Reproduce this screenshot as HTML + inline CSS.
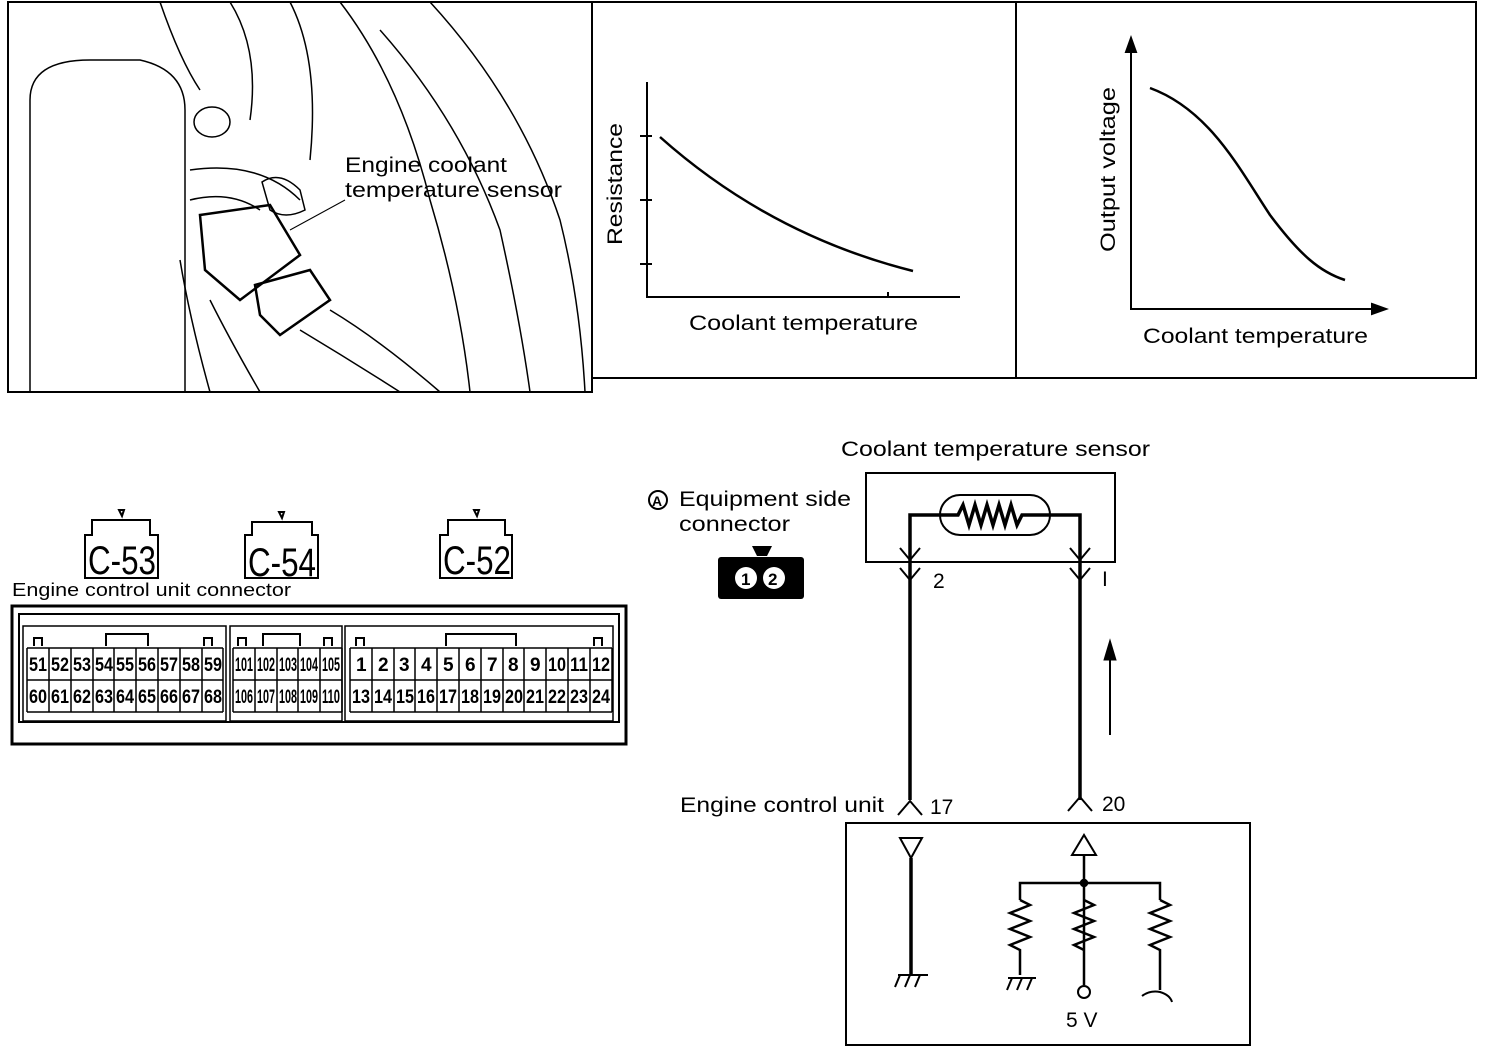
<!DOCTYPE html>
<html><head><style>
body{margin:0;background:#fff;}
svg{display:block;font-family:"Liberation Sans",sans-serif;}
</style></head><body>
<svg width="1504" height="1050" viewBox="0 0 1504 1050" xmlns="http://www.w3.org/2000/svg">
<g fill="none" stroke="#000" stroke-width="2">
<!-- top frame -->
<rect x="8" y="2" width="584" height="390"/>
<rect x="592" y="2" width="884" height="376"/>
<line x1="1016" y1="2" x2="1016" y2="378"/>
<!-- photo sketch -->
<path d="M30 392 V100 Q30 60 90 60 H140 Q185 70 185 110 V392" stroke-width="1.5"/>
<path d="M160 2 Q180 60 200 90 M230 2 Q260 50 250 120 M290 2 Q320 60 310 160 M340 2 Q400 80 430 200 Q460 300 470 392 M380 30 Q460 120 500 230 Q520 320 530 392 M430 2 Q520 100 560 220 Q580 300 585 392" stroke-width="1.5"/>
<ellipse cx="212" cy="122" rx="18" ry="15" stroke-width="1.5"/>
<path d="M190 170 Q260 160 300 200 M190 200 Q230 190 260 210" stroke-width="1.5"/>
<path d="M200 215 L270 205 L300 255 L240 300 L205 270 Z" stroke-width="2.5"/>
<path d="M255 285 L310 270 L330 300 L280 335 L260 315 Z" stroke-width="2.5"/>
<path d="M262 182 Q280 170 300 190 L305 210 Q285 220 270 210 Z" stroke-width="1.5"/>
<path d="M300 330 Q350 360 400 392 M330 310 Q380 340 440 392 M210 300 Q230 340 260 392 M180 260 Q190 320 210 392" stroke-width="1.5"/>
<line x1="290" y1="230" x2="345" y2="200" stroke-width="1"/>
<!-- graph 1 -->
<path d="M647 82 V297 H960" />
<path d="M640 136 H652 M640 200 H652 M640 264 H652 M888 292 V297" />
<path d="M660 137 Q770 235 913 271" stroke-width="2.5"/>
<!-- graph 2 -->
<path d="M1131 40 V309 H1385"/>
<path d="M1126 52 L1131 38 L1136 52 Z M1372 304 L1386 309 L1372 314 Z" fill="#000"/>
<path d="M1150 88 C1210 110 1240 170 1270 215 C1300 255 1320 272 1345 280" stroke-width="2.5"/>
</g>
<g font-size="21" fill="#000" lengthAdjust="spacingAndGlyphs">
<text x="345" y="172" textLength="162" lengthAdjust="spacingAndGlyphs">Engine coolant</text>
<text x="345" y="197" textLength="217" lengthAdjust="spacingAndGlyphs">temperature sensor</text>
<text x="689" y="330" textLength="229" lengthAdjust="spacingAndGlyphs">Coolant temperature</text>
<text x="1143" y="343" textLength="225" lengthAdjust="spacingAndGlyphs">Coolant temperature</text>
<text transform="translate(622,245) rotate(-90)" textLength="122" lengthAdjust="spacingAndGlyphs">Resistance</text>
<text transform="translate(1115,252) rotate(-90)" textLength="165" lengthAdjust="spacingAndGlyphs">Output voltage</text>
<text x="841" y="456" textLength="309" lengthAdjust="spacingAndGlyphs">Coolant temperature sensor</text>
<text x="679" y="506" textLength="172" lengthAdjust="spacingAndGlyphs">Equipment side</text>
<text x="679" y="531" textLength="111" lengthAdjust="spacingAndGlyphs">connector</text>
<text x="680" y="812" textLength="204" lengthAdjust="spacingAndGlyphs">Engine control unit</text>
<text x="930" y="814">17</text>
<text x="1102" y="811">20</text>
<text x="933" y="588">2</text>
<text x="1102" y="586">I</text>
<text x="1066" y="1027">5  V</text>
<text x="12" y="596" font-size="18" textLength="279" lengthAdjust="spacingAndGlyphs">Engine control unit connector</text>
</g>
<!-- A circle -->
<circle cx="658" cy="500" r="9" fill="none" stroke="#000" stroke-width="2"/>
<text x="652" y="506" font-size="14" font-weight="bold">A</text>
<!-- small connector -->
<rect x="718" y="557" width="86" height="42" rx="3" fill="#000"/>
<path d="M752 546 H772 L767 556 H757 Z" fill="#000"/>
<circle cx="746" cy="578" r="11" fill="#fff"/><circle cx="774" cy="578" r="11" fill="#fff"/>
<text x="741" y="585" font-size="17" font-weight="bold">1</text><text x="768" y="585" font-size="17" font-weight="bold">2</text>
<!-- C labels -->
<g fill="none" stroke="#000" stroke-width="2">
<path d="M85 578 V535 H92 V520 H150 V535 H158 V578 Z"/>
<path d="M245 578 V535 H252 V522 H312 V535 H318 V578 Z"/>
<path d="M440 578 V535 H448 V520 H505 V535 H512 V578 Z"/>
<path d="M119 510 L124 510 L122 516 Z M279 512 L284 512 L282 518 Z M474 510 L479 510 L477 516 Z"/>
</g>
<g font-size="40" fill="#000">
<text x="88" y="574" textLength="68" lengthAdjust="spacingAndGlyphs">C-53</text>
<text x="248" y="576" textLength="68" lengthAdjust="spacingAndGlyphs">C-54</text>
<text x="443" y="574" textLength="68" lengthAdjust="spacingAndGlyphs">C-52</text>
</g>
<!-- ECU connector -->
<g fill="none" stroke="#000" stroke-width="2">
<rect x="12" y="606" width="614" height="138" stroke-width="3"/>
<rect x="19" y="614" width="600" height="108"/>
<rect x="23" y="626" width="203" height="95" stroke-width="1.5"/>
<rect x="230" y="626" width="112" height="95" stroke-width="1.5"/>
<rect x="345" y="626" width="268" height="95" stroke-width="1.5"/>
<path d="M106 646 V634 H148 V646 M263 646 V634 H300 V646 M446 646 V634 H516 V646"/>
<path d="M34 646 V638 H42 V646 M204 646 V638 H212 V646 M238 646 V638 H246 V646 M324 646 V638 H332 V646 M356 646 V638 H364 V646 M594 646 V638 H602 V646"/>
</g>
<g fill="none" stroke="#000" stroke-width="1.5">
<path d="M27 648 H223 M27 680 H223 M27 712 H223 M27 648 V712 M49 648 V712 M71 648 V712 M93 648 V712 M114 648 V712 M136 648 V712 M158 648 V712 M180 648 V712 M202 648 V712 M223 648 V712"/>
<path d="M233 648 H342 M233 680 H342 M233 712 H342 M233 648 V712 M255 648 V712 M277 648 V712 M298 648 V712 M320 648 V712 M342 648 V712"/>
<path d="M350 648 H612 M350 680 H612 M350 712 H612 M350 648 V712 M372 648 V712 M394 648 V712 M415 648 V712 M437 648 V712 M459 648 V712 M481 648 V712 M503 648 V712 M524 648 V712 M546 648 V712 M568 648 V712 M590 648 V712 M612 648 V712"/>
</g>
<g font-size="19" fill="#000" font-weight="bold">
<text x="29" y="671" textLength="18" lengthAdjust="spacingAndGlyphs">51</text><text x="51" y="671" textLength="18" lengthAdjust="spacingAndGlyphs">52</text><text x="73" y="671" textLength="18" lengthAdjust="spacingAndGlyphs">53</text><text x="95" y="671" textLength="18" lengthAdjust="spacingAndGlyphs">54</text><text x="116" y="671" textLength="18" lengthAdjust="spacingAndGlyphs">55</text><text x="138" y="671" textLength="18" lengthAdjust="spacingAndGlyphs">56</text><text x="160" y="671" textLength="18" lengthAdjust="spacingAndGlyphs">57</text><text x="182" y="671" textLength="18" lengthAdjust="spacingAndGlyphs">58</text><text x="204" y="671" textLength="18" lengthAdjust="spacingAndGlyphs">59</text>
<text x="29" y="703" textLength="18" lengthAdjust="spacingAndGlyphs">60</text><text x="51" y="703" textLength="18" lengthAdjust="spacingAndGlyphs">61</text><text x="73" y="703" textLength="18" lengthAdjust="spacingAndGlyphs">62</text><text x="95" y="703" textLength="18" lengthAdjust="spacingAndGlyphs">63</text><text x="116" y="703" textLength="18" lengthAdjust="spacingAndGlyphs">64</text><text x="138" y="703" textLength="18" lengthAdjust="spacingAndGlyphs">65</text><text x="160" y="703" textLength="18" lengthAdjust="spacingAndGlyphs">66</text><text x="182" y="703" textLength="18" lengthAdjust="spacingAndGlyphs">67</text><text x="204" y="703" textLength="18" lengthAdjust="spacingAndGlyphs">68</text>
<text x="235" y="671" textLength="18" lengthAdjust="spacingAndGlyphs">101</text><text x="257" y="671" textLength="18" lengthAdjust="spacingAndGlyphs">102</text><text x="279" y="671" textLength="18" lengthAdjust="spacingAndGlyphs">103</text><text x="300" y="671" textLength="18" lengthAdjust="spacingAndGlyphs">104</text><text x="322" y="671" textLength="18" lengthAdjust="spacingAndGlyphs">105</text>
<text x="235" y="703" textLength="18" lengthAdjust="spacingAndGlyphs">106</text><text x="257" y="703" textLength="18" lengthAdjust="spacingAndGlyphs">107</text><text x="279" y="703" textLength="18" lengthAdjust="spacingAndGlyphs">108</text><text x="300" y="703" textLength="18" lengthAdjust="spacingAndGlyphs">109</text><text x="322" y="703" textLength="18" lengthAdjust="spacingAndGlyphs">110</text>
<text x="356" y="671">1</text><text x="378" y="671">2</text><text x="399" y="671">3</text><text x="421" y="671">4</text><text x="443" y="671">5</text><text x="465" y="671">6</text><text x="487" y="671">7</text><text x="508" y="671">8</text><text x="530" y="671">9</text>
<text x="548" y="671" textLength="18" lengthAdjust="spacingAndGlyphs">10</text><text x="570" y="671" textLength="18" lengthAdjust="spacingAndGlyphs">11</text><text x="592" y="671" textLength="18" lengthAdjust="spacingAndGlyphs">12</text>
<text x="352" y="703" textLength="18" lengthAdjust="spacingAndGlyphs">13</text><text x="374" y="703" textLength="18" lengthAdjust="spacingAndGlyphs">14</text><text x="396" y="703" textLength="18" lengthAdjust="spacingAndGlyphs">15</text><text x="417" y="703" textLength="18" lengthAdjust="spacingAndGlyphs">16</text><text x="439" y="703" textLength="18" lengthAdjust="spacingAndGlyphs">17</text><text x="461" y="703" textLength="18" lengthAdjust="spacingAndGlyphs">18</text><text x="483" y="703" textLength="18" lengthAdjust="spacingAndGlyphs">19</text><text x="505" y="703" textLength="18" lengthAdjust="spacingAndGlyphs">20</text><text x="526" y="703" textLength="18" lengthAdjust="spacingAndGlyphs">21</text><text x="548" y="703" textLength="18" lengthAdjust="spacingAndGlyphs">22</text><text x="570" y="703" textLength="18" lengthAdjust="spacingAndGlyphs">23</text><text x="592" y="703" textLength="18" lengthAdjust="spacingAndGlyphs">24</text>
</g>
<!-- circuit -->
<g fill="none" stroke="#000" stroke-width="2.5">
<rect x="866" y="473" width="249" height="89" stroke-width="2"/>
<rect x="940" y="495" width="110" height="40" rx="20" stroke-width="2"/>
<path d="M910 800 V515 H958 L963 505 L969 525 L975 505 L981 525 L987 505 L993 525 L999 505 L1005 525 L1011 505 L1017 525 L1022 515 H1080 V800" stroke-width="3.5"/>
<path d="M900 548 L910 560 L920 548 M900 568 L910 580 L920 568 M1070 548 L1080 560 L1090 548 M1070 568 L1080 580 L1090 568" stroke-width="2"/>
<path d="M898 815 L910 801 L922 815 M1068 811 L1080 797 L1092 811" stroke-width="2"/>
<path d="M1110 645 V735" stroke-width="2"/>
<path d="M1104 660 L1110 640 L1116 660 Z" fill="#000" stroke-width="1"/>
<rect x="846" y="823" width="404" height="222" stroke-width="2"/>
<path d="M900 838 H922 L911 858 Z" stroke-width="2"/>
<path d="M911 858 V975" stroke-width="3.5"/>
<path d="M898 975 H928 M900 975 L895 987 M910 975 L905 987 M920 975 L915 987" stroke-width="2"/>
<path d="M1072 855 H1096 L1084 835 Z" stroke-width="2"/>
<path d="M1084 855 V985"/>
<path d="M1020 900 V883 H1160 V900"/>
<path d="M1020 900 L1030 905 L1010 913 L1030 921 L1010 929 L1030 937 L1010 945 L1020 950 V975"/>
<path d="M1084 900 L1094 905 L1074 913 L1094 921 L1074 929 L1094 937 L1074 945 L1084 950"/>
<path d="M1160 900 L1170 905 L1150 913 L1170 921 L1150 929 L1170 937 L1150 945 L1160 950 V990"/>
<path d="M1008 978 H1036 M1012 978 L1007 990 M1022 978 L1017 990 M1032 978 L1027 990" stroke-width="2"/>
<circle cx="1084" cy="992" r="6" fill="#fff" stroke-width="2"/>
<path d="M1142 996 Q1150 990 1160 992 Q1170 995 1172 1002" stroke-width="2"/>
<circle cx="1084" cy="883" r="3" fill="#000"/>
</g>
</svg>
</body></html>
